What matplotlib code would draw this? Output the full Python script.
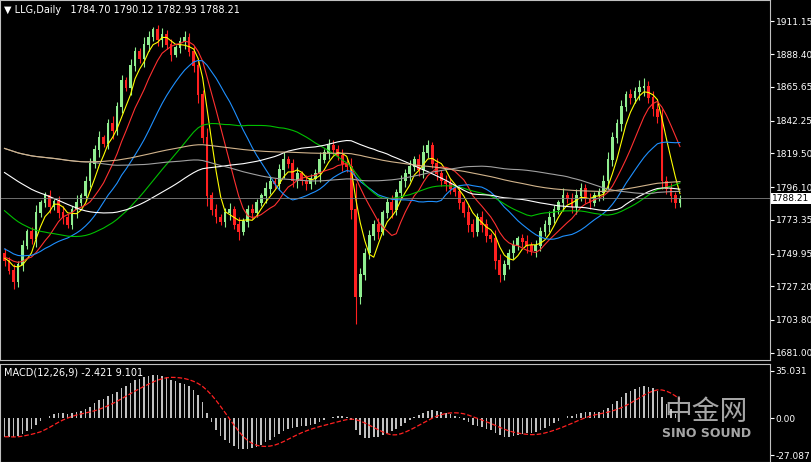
import numpy as np
import pandas as pd
import matplotlib
matplotlib.use("Agg")
import matplotlib.pyplot as plt

# closes before the visible window (only feed the moving averages)
pre_closes = [1872,1868,1875,1880,1877,1870,1866,1862,1869,1874,
              1878,1882,1876,1871,1865,1860,1864,1868,1873,1870,
              1866,1861,1858,1863,1867,1871,1869,1864,1859,1855,
              1860,1864,1861,1857,1852,1856,1860,1858,1853,1850,
              1846,1842,1838,1835,1830,1826,1822,1818,1815,1812,
              1808,1804,1800,1797,1793,1790,1786,1782,1779,1776,
              1772,1770,1767,1764,1761,1760,1757,1755,1753,1750,
              1752,1749,1747,1750,1748,1746,1749,1747,1745,1748]
closes = [1745,1738,1730,1742,1755,1765,1760,1778,1785,1790,
          1782,1786,1778,1775,1770,1780,1785,1790,1800,1812,
          1822,1830,1826,1840,1835,1852,1870,1865,1880,1890,
          1885,1895,1900,1905,1898,1902,1895,1888,1893,1897,
          1900,1890,1880,1860,1830,1790,1780,1775,1772,1778,
          1780,1770,1765,1772,1780,1778,1785,1790,1795,1800,
          1798,1808,1815,1812,1800,1805,1800,1798,1802,1805,
          1815,1820,1825,1822,1818,1812,1810,1780,1720,1735,
          1750,1762,1770,1765,1778,1785,1780,1792,1800,1805,
          1810,1815,1808,1820,1825,1812,1805,1800,1798,1795,
          1793,1785,1778,1770,1765,1775,1770,1762,1760,1745,
          1735,1742,1750,1755,1760,1758,1755,1752,1755,1765,
          1770,1775,1780,1785,1790,1788,1782,1790,1795,1788,
          1785,1790,1792,1800,1815,1830,1840,1852,1860,1858,
          1862,1865,1866,1858,1850,1845,1800,1795,1790,1784.70,1788.21]
first_open = 1750
wick = [6,4,8,5,7,3,6,9,4,5, 7,3,6,8,4,5,9,3,6,7, 5,8,4,6,9,5,7,4,8,6,
        5,9,7,4,6,8,5,7,3,6, 8,5,7,9,6,12,5,7,4,6, 8,5,9,4,6,7,5,3,8,6,
        4,7,9,5,6,8,4,7,5,6, 9,4,7,6,5,8,6,10,32,8, 6,7,5,8,4,6,9,5,7,6,
        8,5,7,9,6,4,7,5,8,6, 5,7,4,9,6,5,8,7,4,10, 8,6,5,7,4,6,8,5,7,6,
        5,8,6,4,9,5,7,8,6,5, 7,4,6,8,9,7,6,8,5,7, 6,9,10,6,8,7,9,6,7,5,4]

fig = plt.figure(figsize=(8.12, 4.62), dpi=100, facecolor="black")
ax = fig.add_axes([0.0, 102 / 462, 770 / 812, 360 / 462])
ax2 = fig.add_axes([0.0, 0.0, 770 / 812, 98 / 462])
for a in (ax, ax2):
    a.set_facecolor("black")
    for s in a.spines.values():
        s.set_color("#c0c0c0")
    a.yaxis.tick_right()
    a.tick_params(colors="white", labelsize=6.5, length=3, pad=1)
    a.set_xticks([])

c = np.array(closes, float)
o = np.concatenate([[first_open], c[:-1]])
w = np.array(wick, float)
hi = np.maximum(o, c) + w * 0.6
lo = np.minimum(o, c) - w * 0.6
x = np.arange(len(c))
up = c >= o
for i in x:
    col = "#90ee90" if up[i] else "#ff2020"
    ax.vlines(i, lo[i], hi[i], color=col, lw=0.8)
    ax.bar(i, abs(c[i] - o[i]) + 0.6, bottom=min(o[i], c[i]), width=0.6, color=col)

npre = len(pre_closes)
s = pd.Series(pre_closes + closes, dtype=float)
ma_specs = [(5, "#ffff00"), (10, "#ff3030"), (20, "#1e90ff"), (40, "#00c000"),
            (60, "#ffffff"), (100, "#a0a0a0"), (160, "#d2b48c")]
for n, col in ma_specs:
    ax.plot(x, s.rolling(n, min_periods=1).mean().values[npre:], color=col, lw=0.8)

ax.set_xlim(-1, 170)
ax.set_ylim(1676, 1926)
ticks = [1681.00, 1703.80, 1727.20, 1749.95, 1773.35, 1796.10, 1819.50, 1842.25, 1865.65, 1888.40, 1911.15]
ax.set_yticks(ticks)
ax.set_yticklabels([f"{t:.2f}" for t in ticks])
ax.axhline(c[-1], color="#808080", lw=0.6)
ax.text(1.003, (c[-1] - 1676) / 250, f"{c[-1]:.2f}", transform=ax.transAxes, fontsize=6.5,
        color="black", va="center", bbox=dict(fc="white", ec="none", pad=1))
ax.text(0.005, 0.985, "▼ LLG,Daily   1784.70 1790.12 1782.93 1788.21", transform=ax.transAxes,
        color="white", fontsize=7, va="top")

ema12 = s.ewm(span=12, adjust=False).mean()
ema26 = s.ewm(span=26, adjust=False).mean()
macd = (ema12 - ema26).values[npre:]
sig = pd.Series(macd).rolling(9, min_periods=1).mean()
ax2.bar(x, macd, width=0.35, color="#c0c0c0")
ax2.plot(x, sig, color="#ff2020", lw=0.9, ls="--")
ax2.set_xlim(-1, 170)
ax2.set_ylim(-32, 40)
ax2.set_yticks([35.031, 0, -27.087])
ax2.set_yticklabels(["35.031", "0.00", "-27.087"])
ax2.text(0.005, 0.96, "MACD(12,26,9) -2.421 9.101", transform=ax2.transAxes,
         color="white", fontsize=7, va="top")
fig.text(0.87, 0.09, "中金网", fontsize=20, color="#d0d0d0", family=["Noto Sans CJK SC", "DejaVu Sans"],
         ha="center", alpha=0.8)
fig.text(0.87, 0.055, "SINO SOUND", fontsize=9, color="#d0d0d0", weight="bold", ha="center", alpha=0.8)
fig.savefig("out.png", dpi=100, facecolor="black")
